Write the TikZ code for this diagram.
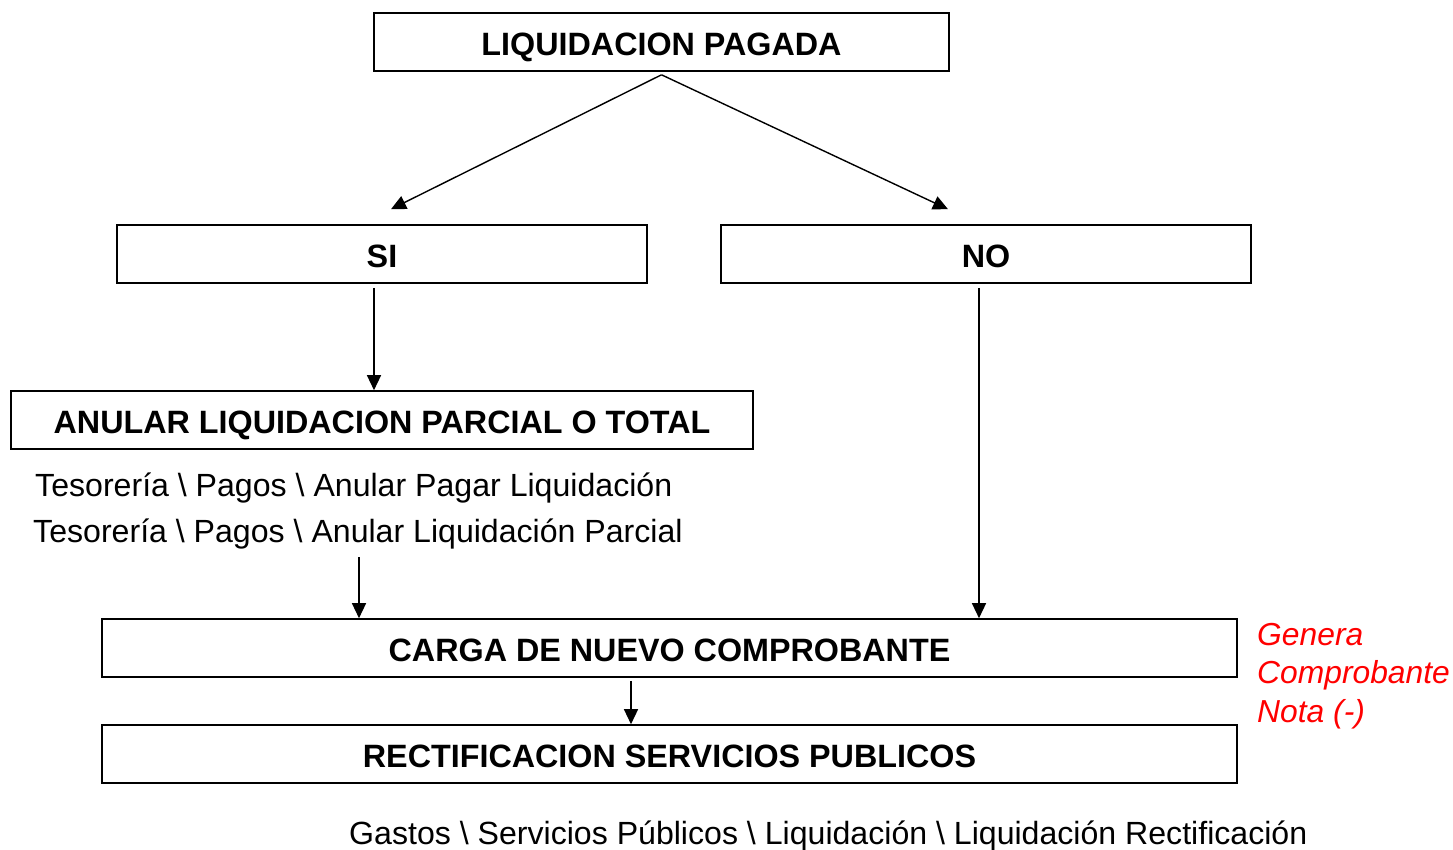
\documentclass[tikz,border=0pt]{standalone}
\usepackage{fontspec}
\setmainfont{Liberation Sans}
\usetikzlibrary{arrows.meta}
\begin{document}
\begin{tikzpicture}[x=1pt,y=-1pt,
  box/.style={draw,line width=1.6pt,rectangle,inner sep=0pt,minimum height=58pt,
    text height=27.7pt,text depth=0pt,
    font=\fontsize{32.3}{38}\selectfont\bfseries},
  arr/.style={line width=1.4pt,-{Triangle[length=15pt,width=14pt]}},
  path/.style={inner sep=0pt,anchor=base west,font=\fontsize{32.1}{38}\selectfont},
  note/.style={inner sep=0pt,anchor=base west,text=red,font=\fontsize{31.8}{38}\selectfont\itshape}]
\useasboundingbox (0,0) rectangle (1453,850);
\node[box,minimum width=575pt] (lp) at (661.5,42) {LIQUIDACION PAGADA};
\node[box,minimum width=530pt] (si) at (382,254) {SI};
\node[box,minimum width=530pt] (no) at (986,254) {NO};
\node[box,minimum width=742pt] (anul) at (382,420) {ANULAR LIQUIDACION PARCIAL O TOTAL};
\node[box,minimum width=1135pt] (carga) at (669.5,648) {CARGA DE NUEVO COMPROBANTE};
\node[box,minimum width=1135pt] (rect) at (669.5,754) {RECTIFICACION SERVICIOS PUBLICOS};
\node[path] (t1) at (35,496.5) {Tesorería \textbackslash{} Pagos \textbackslash{} Anular Pagar Liquidación};
\node[path] (t2) at (33,542.5) {Tesorería \textbackslash{} Pagos \textbackslash{} Anular Liquidación Parcial};
\node[path] (t3) at (349,844.5) {Gastos \textbackslash{} Servicios Públicos \textbackslash{} Liquidación \textbackslash{} Liquidación Rectificación};
\node[note] (n1) at (1257,645.5) {Genera};
\node[note] (n2) at (1257,683.5) {Comprobante};
\node[note] (n3) at (1257,722.5) {Nota (-)};
\coordinate (top) at ([yshift=-3pt]lp.south);
\draw[arr] (top) -- ([shift={(9pt,15pt)}]si.north);
\draw[arr] (top) -- ([shift={(-38pt,15pt)}]no.north);
\draw[arr] ([shift={(-8pt,-4pt)}]si.south) -- ([xshift=-8pt]anul.north);
\coordinate (noX) at ([shift={(-7pt,-4pt)}]no.south);
\draw[arr] (noX) -- (carga.north -| noX);
\coordinate (tX) at (359,557);
\draw[arr] (tX) -- (carga.north -| tX);
\coordinate (cX) at ([shift={(-38.5pt,-3pt)}]carga.south);
\draw[arr] (cX) -- (rect.north -| cX);
\end{tikzpicture}
\end{document}
